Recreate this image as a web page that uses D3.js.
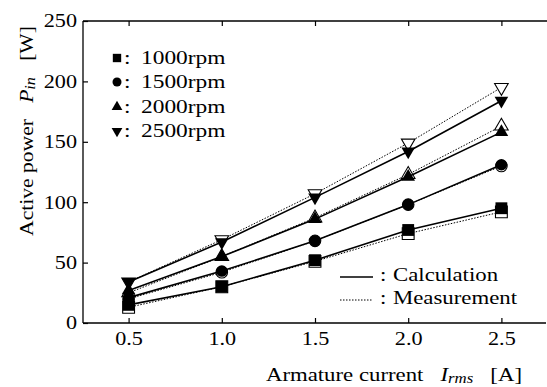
<!DOCTYPE html>
<html><head><meta charset="utf-8">
<script src="https://cdn.jsdelivr.net/npm/d3@7"></script>
<style>
html,body{margin:0;padding:0;background:#fff;}
svg{display:block;}
text{font-family:"Liberation Serif","Times New Roman",serif;fill:#000;}
</style></head>
<body>
<svg id="c" width="547" height="387"></svg>
<script>
const currents = [0.5, 1.0, 1.5, 2.0, 2.5];
const speeds = ["1000rpm", "1500rpm", "2000rpm", "2500rpm"];
const calc1000 = [15, 30, 52, 77, 95];
const meas1000 = [13, 30, 51, 74, 92];
const calc1500 = [21, 43, 68, 98, 131];
const meas1500 = [20, 42, 68, 98, 130];
const calc2000 = [27, 55, 86, 121, 158];
const meas2000 = [25, 55, 87, 123, 163];
const calc2500 = [34, 67, 104, 142, 184];
const meas2500 = [34, 69, 107, 149, 195];
const xTicks = [0.5, 1.0, 1.5, 2.0, 2.5];
const yTicks = [0, 50, 100, 150, 200, 250];
const lineLabels = ["Calculation", "Measurement"];

const series = [
  {name: speeds[0], shape: d3.symbolSquare, calc: calc1000, meas: meas1000, rot: 0, size: 140},
  {name: speeds[1], shape: d3.symbolCircle, calc: calc1500, meas: meas1500, rot: 0, size: 105},
  {name: speeds[2], shape: d3.symbolTriangle, calc: calc2000, meas: meas2000, rot: 0, size: 80},
  {name: speeds[3], shape: d3.symbolTriangle, calc: calc2500, meas: meas2500, rot: 180, size: 80}
];

const SX = 1.2;
const svg = d3.select("#c");
const L = 83, R = 546, T = 21, B = 323;
const x = d3.scaleLinear().domain([0.25, 2.75]).range([82, 548]);
const y = d3.scaleLinear().domain([0, 250]).range([B, T]);

// frame lines (left, bottom, top)
svg.append("line").attr("x1", L).attr("x2", L).attr("y1", T).attr("y2", B).attr("stroke", "#000").attr("stroke-width", 1.3);
svg.append("line").attr("x1", L).attr("x2", R).attr("y1", B).attr("y2", B).attr("stroke", "#000").attr("stroke-width", 1.3);
svg.append("line").attr("x1", L).attr("x2", 547).attr("y1", T).attr("y2", T).attr("stroke", "#000").attr("stroke-width", 1.3);

// bottom axis
const gx = svg.append("g").attr("transform", `translate(0,${B})`)
  .call(d3.axisBottom(x).tickValues(xTicks).tickFormat(d3.format(".1f")).tickSizeInner(-5).tickSizeOuter(0).tickPadding(9));
gx.select(".domain").remove();
gx.selectAll("line").attr("stroke", "#000").attr("stroke-width", 1.2);
gx.selectAll("text").attr("font-size", 18.5).attr("transform", `scale(${SX},1)`);

// top ticks
const gt = svg.append("g").attr("transform", `translate(0,${T})`)
  .call(d3.axisTop(x).tickValues(xTicks).tickFormat("").tickSizeInner(-5).tickSizeOuter(0));
gt.select(".domain").remove();
gt.selectAll("line").attr("stroke", "#000").attr("stroke-width", 1.2);

// left axis
const gy = svg.append("g").attr("transform", `translate(${L},0)`)
  .call(d3.axisLeft(y).tickValues(yTicks).tickSizeInner(-5).tickSizeOuter(0).tickPadding(6));
gy.select(".domain").remove();
gy.selectAll("line").attr("stroke", "#000").attr("stroke-width", 1.2);
gy.selectAll("text").attr("font-size", 18.5)
  .attr("x", -6 / SX).attr("transform", `scale(${SX},1)`);

const line = d3.line().x((d, i) => x(currents[i])).y(d => y(d));
const sym = (s) => d3.symbol().type(s.shape).size(s.size);

// measurement: dotted lines + hollow markers
series.forEach(s => {
  svg.append("path").datum(s.meas).attr("d", line).attr("fill", "none")
    .attr("stroke", "#000").attr("stroke-width", 1).attr("stroke-dasharray", "1.5,1.5");
});
series.forEach(s => {
  svg.selectAll(null).data(s.meas).join("path")
    .attr("d", sym(s))
    .attr("transform", (d, i) => `translate(${x(currents[i])},${y(d)}) rotate(${s.rot})`)
    .attr("fill", "#fff").attr("stroke", "#000").attr("stroke-width", 1.1);
});
// calculation: solid lines + filled markers
series.forEach(s => {
  svg.append("path").datum(s.calc).attr("d", line).attr("fill", "none")
    .attr("stroke", "#000").attr("stroke-width", 1.6);
});
series.forEach(s => {
  svg.selectAll(null).data(s.calc).join("path")
    .attr("d", sym(s))
    .attr("transform", (d, i) => `translate(${x(currents[i])},${y(d)}) rotate(${s.rot})`)
    .attr("fill", "#000");
});

// marker legend
const legY = [58, 82, 107, 131];
const legSizes = [70, 64, 50, 50];
series.forEach((s, i) => {
  svg.append("path").attr("d", d3.symbol().type(s.shape).size(legSizes[i]))
    .attr("transform", `translate(117,${legY[i]}) rotate(${s.rot})`).attr("fill", "#000");
  svg.append("text").attr("transform", `translate(124,${legY[i] + 6}) scale(${SX},1)`)
    .attr("font-size", 19.5).text(":");
  svg.append("text").attr("transform", `translate(141,${legY[i] + 6}) scale(${SX},1)`)
    .attr("font-size", 19.5).text(s.name);
});

// line legend
const llY = [277, 300];
svg.append("line").attr("x1", 340).attr("x2", 373).attr("y1", llY[0]).attr("y2", llY[0])
  .attr("stroke", "#000").attr("stroke-width", 1.6);
svg.append("line").attr("x1", 340).attr("x2", 373).attr("y1", llY[1]).attr("y2", llY[1])
  .attr("stroke", "#000").attr("stroke-width", 1).attr("stroke-dasharray", "1.5,1.5");
lineLabels.forEach((t, i) => {
  svg.append("text").attr("transform", `translate(380,${llY[i] + 4}) scale(${SX},1)`)
    .attr("font-size", 19).text(":");
  svg.append("text").attr("transform", `translate(393,${llY[i] + 4}) scale(${SX},1)`)
    .attr("font-size", 19).text(t);
});

// x axis title
const xt = svg.append("text").attr("transform", `translate(522,381) scale(${SX},1)`)
  .attr("font-size", 19).attr("text-anchor", "end");
xt.append("tspan").text("Armature current\u2002 ");
xt.append("tspan").attr("font-style", "italic").text("I");
xt.append("tspan").attr("font-style", "italic").attr("font-size", 14).attr("dy", 2).text("rms");
xt.append("tspan").attr("dy", -2).text("\u2002 [A]");

// y axis title
const yt = svg.append("text").attr("transform", `translate(33,131) rotate(-90) scale(${SX},1.05)`)
  .attr("font-size", 18).attr("text-anchor", "middle");
yt.append("tspan").text("Active power\u2002 ");
yt.append("tspan").attr("font-style", "italic").text("P");
yt.append("tspan").attr("font-style", "italic").attr("font-size", 13.5).attr("dy", 2).text("in");
yt.append("tspan").attr("dy", -2).text("\u2002 [W]");
</script>
</body></html>
